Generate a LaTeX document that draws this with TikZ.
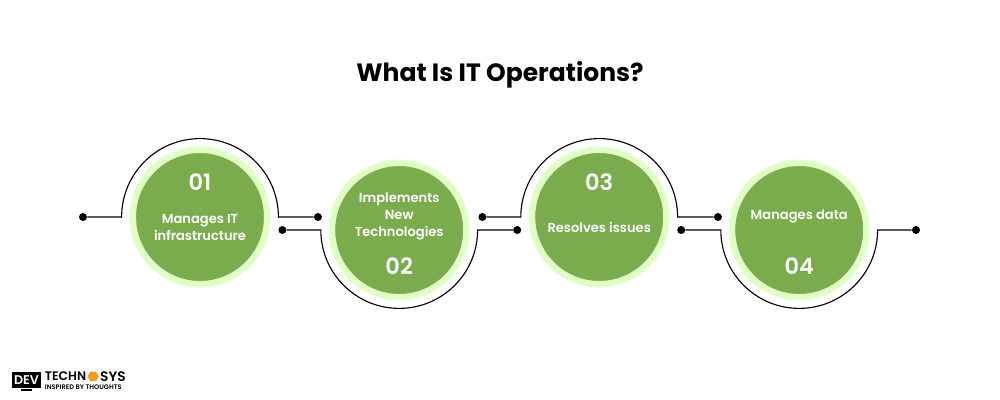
\documentclass[tikz,border=0pt]{standalone}
\usepackage{fontspec}
\setmainfont{Poppins}[BoldFont={Poppins SemiBold}]
\newfontfamily\headfont{Poppins}
\usepackage{tikz}
\usetikzlibrary{positioning}
\usetikzlibrary{shapes.geometric}
\definecolor{leaf}{HTML}{7AAC4E}
\definecolor{halo}{HTML}{DFFFC4}
\definecolor{spark}{HTML}{F59A23}
\tikzset{
  disc/.style={circle,fill=leaf,draw=halo,line width=0.16cm,minimum size=3.36cm,inner sep=0pt},
  dot/.style={circle,fill=black,minimum size=0.2cm,inner sep=0pt},
  wire/.style={line width=0.8pt,black},
  label/.style={white,font=\fontsize{9.3}{12.1}\selectfont\bfseries,align=center},
  numeral/.style={white,font=\fontsize{16}{18}\selectfont\bfseries},
  brand/.style={inner sep=0pt,font=\fontsize{8.8}{8.8}\selectfont\bfseries}
}
\begin{document}
\begin{tikzpicture}
    \useasboundingbox (0,0) rectangle (25,10);
    \node (title) at (12.5,8.12) {\headfont\fontsize{17.8}{22}\selectfont\bfseries What Is IT Operations?};

    \node (c1) [disc] at (5,4.575) {};
    \node (c2) [disc, right of=c1, node distance=4.98cm, yshift=-0.325cm] {};
    \node (c3) [disc, right of=c1, node distance=9.98cm] {};
    \node (c4) [disc, right of=c2, node distance=10cm] {};

    \node (n1) [numeral, above of=c1, node distance=0.88cm] {01};
    \node (t1) [label, below of=c1, node distance=0.26cm] {Manages IT\\infrastructure};
    \node (n2) [numeral, below of=c2, node distance=0.9cm] {02};
    \node (t2) [label, above of=c2, node distance=0.34cm] {Implements\\New\\Technologies};
    \node (n3) [numeral, above of=c3, node distance=0.88cm] {03};
    \node (t3) [label, below of=c3, node distance=0.26cm] {Resolves issues};
    \node (n4) [numeral, below of=c4, node distance=0.9cm] {04};
    \node (t4) [label, above of=c4, node distance=0.33cm] {Manages data};

    \node (d1a) [dot, left of=c1, node distance=2.925cm] {};
    \node (d1b) [dot, right of=c1, node distance=2.95cm] {};
    \node (d2a) [dot, left of=c2, node distance=2.92cm] {};
    \node (d2b) [dot, right of=c2, node distance=2.95cm] {};
    \node (d3a) [dot, left of=c3, node distance=2.92cm] {};
    \node (d3b) [dot, right of=c3, node distance=2.97cm] {};
    \node (d4a) [dot, left of=c4, node distance=2.95cm] {};
    \node (d4b) [dot, right of=c4, node distance=2.92cm] {};

    \coordinate [left of=c1, node distance=1.96cm] (a1);
    \coordinate [left of=c2, node distance=1.96cm] (a2);
    \coordinate [left of=c3, node distance=1.96cm] (a3);
    \coordinate [left of=c4, node distance=1.96cm] (a4);

    \draw[wire] (d1a) -- (a1) arc[start angle=180, end angle=0, radius=1.96cm] -- (d1b);
    \draw[wire] (d2a) -- (a2) arc[start angle=180, end angle=360, radius=1.96cm] -- (d2b);
    \draw[wire] (d3a) -- (a3) arc[start angle=180, end angle=0, radius=1.96cm] -- (d3b);
    \draw[wire] (d4a) -- (a4) arc[start angle=180, end angle=360, radius=1.96cm] -- (d4b);

    % logo
    \node (dev) [fill=black, text=white, inner sep=0pt, minimum width=0.72cm, minimum height=0.4cm, font=\fontsize{9}{9}\selectfont\bfseries] at (0.66,0.5) {DEV};
    \node (stand) [below=0cm of dev, fill=black, inner sep=0pt, minimum width=0.28cm, minimum height=0.05cm] {};
    \node (techno) [brand, right=0.09cm of dev, yshift=0.09cm] {TECHN};
    \node (hex) [right=0.02cm of techno, regular polygon, regular polygon sides=6, fill=spark, minimum size=0.28cm, inner sep=0pt] {};
    \node (sys) [brand, right=0.02cm of hex, font=\fontsize{9.8}{9.8}\selectfont\bfseries] {SYS};
    \node (tag) [below=0.08cm of techno.south west, anchor=north west, inner sep=0pt, font=\fontsize{4.7}{4.7}\selectfont\bfseries] {INSPIRED BY THOUGHTS};
\end{tikzpicture}
\end{document}
